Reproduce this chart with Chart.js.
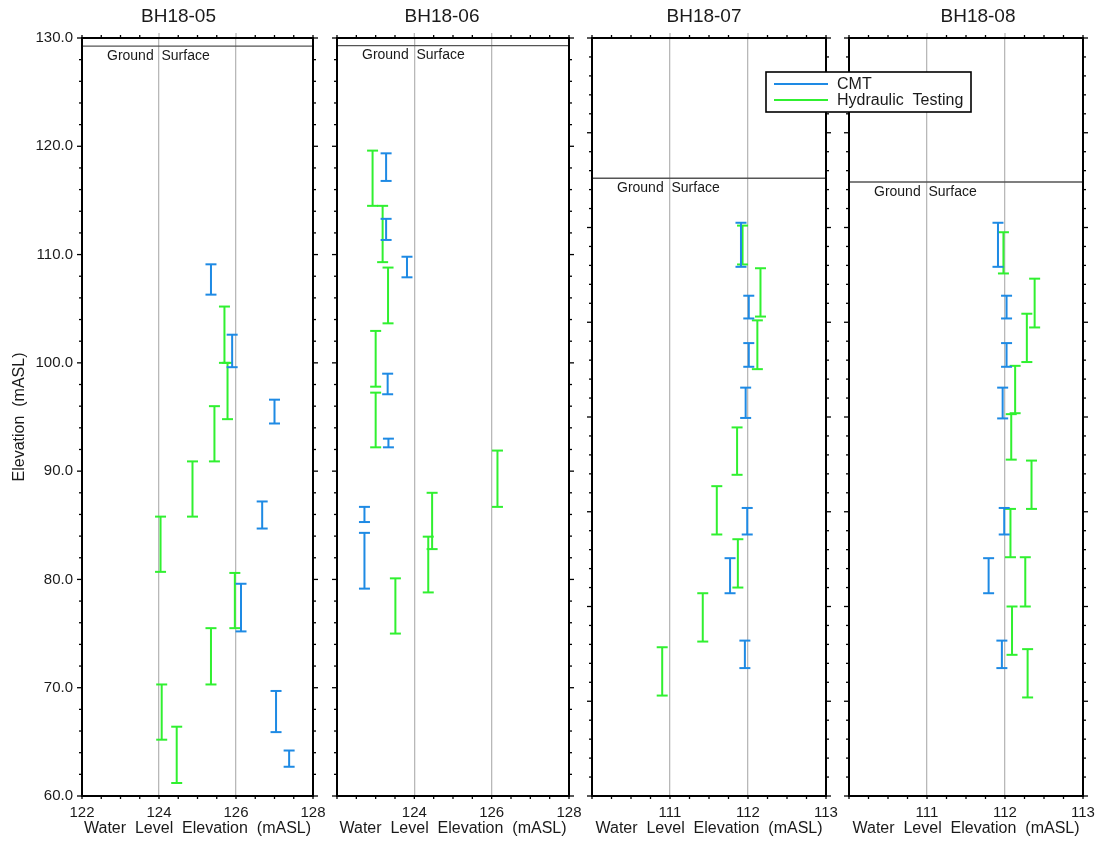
<!DOCTYPE html>
<html>
<head>
<meta charset="utf-8">
<title>Water level elevations by borehole</title>
<script src="https://cdn.jsdelivr.net/npm/chart.js@4.4.1/dist/chart.umd.min.js"></script>
<style>
  html, body { margin: 0; padding: 0; background: #ffffff; }
  #wrap { position: relative; width: 1100px; height: 842px; }
  #wrap canvas { position: absolute; left: 0; top: 0; }
</style>
</head>
<body>
<div id="wrap">
  <canvas id="panel0" width="1100" height="842"></canvas>
  <canvas id="panel1" width="1100" height="842"></canvas>
  <canvas id="panel2" width="1100" height="842"></canvas>
  <canvas id="panel3" width="1100" height="842"></canvas>
</div>
<script>
// ---- data -------------------------------------------------------------
const wells = ['BH18-05', 'BH18-06', 'BH18-07', 'BH18-08'];
const groundSurface = [129.25, 129.3, 115.2, 114.8];   // mASL

// tick values
const waterLevelTicksHigh = [122, 124, 126, 128];
const waterLevelTicksLow = [110, 111, 112, 113];
const elevationTicksUpper = [60, 70, 80, 90, 100, 110, 120, 130];
const elevationTicksFull = [50, 60, 70, 80, 90, 100, 110, 120, 130];

// intervals: [water level elevation, interval top, interval bottom] (mASL)
const bh1805Cmt = [
  [125.35, 109.1, 106.3], [125.90, 102.6, 99.6], [127.00, 96.6, 94.4],
  [126.68, 87.2, 84.7], [126.13, 79.6, 75.2], [127.04, 69.7, 65.9],
  [127.38, 64.2, 62.7]
];
const bh1805Hydraulic = [
  [125.70, 105.2, 100.0], [125.78, 100.0, 94.8], [125.44, 96.0, 90.9],
  [124.87, 90.9, 85.8], [124.04, 85.8, 80.7], [125.97, 80.6, 75.5],
  [125.35, 75.5, 70.3], [124.07, 70.3, 65.2], [124.46, 66.4, 61.2]
];
const bh1806Cmt = [
  [123.27, 119.35, 116.8], [123.27, 113.3, 111.35], [123.81, 109.8, 107.9],
  [123.31, 99.0, 97.1], [123.33, 93.0, 92.2], [122.71, 86.7, 85.3],
  [122.71, 84.3, 79.15]
];
const bh1806Hydraulic = [
  [122.92, 119.6, 114.5], [123.18, 114.5, 109.3], [123.32, 108.8, 103.65],
  [123.00, 102.95, 97.8], [123.00, 97.25, 92.2], [126.15, 91.9, 86.7],
  [124.46, 88.0, 82.8], [124.36, 83.95, 78.8], [123.51, 80.1, 75.0]
];
const bh1807Cmt = [
  [111.91, 110.5, 105.85], [112.01, 102.8, 100.4], [112.01, 97.8, 95.3],
  [111.97, 93.1, 89.9], [111.99, 80.4, 77.6], [111.77, 75.1, 71.4],
  [111.96, 66.4, 63.5]
];
const bh1807Hydraulic = [
  [111.93, 110.2, 106.1], [112.16, 105.7, 100.6], [112.12, 100.2, 95.05],
  [111.86, 88.9, 83.9], [111.60, 82.7, 77.6], [111.87, 77.1, 72.0],
  [111.42, 71.4, 66.3], [110.90, 65.7, 60.6]
];
const bh1808Cmt = [
  [111.91, 110.5, 105.85], [112.02, 102.8, 100.4], [112.02, 97.8, 95.3],
  [111.97, 93.1, 89.85], [111.99, 80.4, 77.6], [111.79, 75.1, 71.4],
  [111.96, 66.4, 63.5]
];
const bh1808Hydraulic = [
  [111.98, 109.5, 105.15], [112.38, 104.6, 99.45], [112.28, 100.9, 95.8],
  [112.13, 95.4, 90.4], [112.08, 90.3, 85.5], [112.34, 85.4, 80.3],
  [112.07, 80.3, 75.2], [112.26, 75.2, 70.0], [112.09, 70.0, 64.9],
  [112.29, 65.5, 60.4]
];

const seriesNames = ['CMT', 'Hydraulic  Testing'];

// ---- styling / layout --------------------------------------------------
const FONT = "'Liberation Sans', Arial, Helvetica, sans-serif";
const INK = '#1a1a1a';
const CMT_BLUE = '#1e8ae4';
const HYD_GREEN = '#30f030';
const GRID_GREY = '#b8b8b8';

Chart.defaults.font.family = FONT;
Chart.defaults.color = INK;

const panels = [
  { well: 0, cmt: bh1805Cmt, hyd: bh1805Hydraulic, xTicks: waterLevelTicksHigh, yTicks: elevationTicksUpper,
    xMinor: 0.5, left: 82, right: 313, titleShift: -19, showY: true },
  { well: 1, cmt: bh1806Cmt, hyd: bh1806Hydraulic, xTicks: waterLevelTicksHigh, yTicks: elevationTicksUpper,
    xMinor: 0.5, left: 337, right: 569, titleShift: -11, showY: false },
  { well: 2, cmt: bh1807Cmt, hyd: bh1807Hydraulic, xTicks: waterLevelTicksLow, yTicks: elevationTicksFull,
    xMinor: 0.25, left: 592, right: 826, titleShift: -5, showY: false },
  { well: 3, cmt: bh1808Cmt, hyd: bh1808Hydraulic, xTicks: waterLevelTicksLow, yTicks: elevationTicksFull,
    xMinor: 0.25, left: 849, right: 1083, titleShift: 12, showY: false, legend: true }
];

// Turn [level, top, bottom] rows into line segments separated by gaps.
function intervalPoints(rows) {
  const pts = [];
  rows.forEach(([x, top, bottom], k) => {
    if (k > 0) pts.push({ x: x, y: null });
    pts.push({ x: x, y: top }, { x: x, y: bottom });
  });
  return pts;
}

function intervalDataset(label, rows, color) {
  return {
    label: label,
    data: intervalPoints(rows),
    borderColor: color,
    backgroundColor: color,
    borderWidth: 2,
    pointStyle: 'line',
    pointRadius: 5.5,
    pointHoverRadius: 5.5,
    pointBorderColor: color,
    pointBorderWidth: 2,
    spanGaps: false,
    fill: false,
    tension: 0
  };
}

function line(ctx, x1, y1, x2, y2) {
  ctx.beginPath();
  ctx.moveTo(x1, y1);
  ctx.lineTo(x2, y2);
  ctx.stroke();
}

// Frame, tick marks, well title and ground-surface label.
const panelDecor = {
  id: 'panelDecor',
  afterDraw(chart, args, opts) {
    const ctx = chart.ctx;
    const a = chart.chartArea;
    const xs = chart.scales.x, ys = chart.scales.y;
    ctx.save();

    // x tick marks (top and bottom)
    const nx = Math.round((xs.max - xs.min) / opts.xMinor);
    for (let i = 0; i <= nx; i++) {
      const v = xs.min + i * opts.xMinor;
      const px = xs.getPixelForValue(v);
      const isMajor = opts.xTicks.some(t => Math.abs(t - v) < 1e-6);
      const interior = isMajor && v > xs.min && v < xs.max;
      ctx.lineWidth = 1.3;
      ctx.strokeStyle = interior ? GRID_GREY : '#000';
      line(ctx, px, a.top, px, a.top - (interior ? 5 : 3));
      ctx.strokeStyle = '#000';
      line(ctx, px, a.bottom, px, a.bottom + 3);
    }

    // y tick marks (left and right)
    const yMinor = 2;
    const ny = Math.round((ys.max - ys.min) / yMinor);
    ctx.strokeStyle = '#000';
    ctx.lineWidth = 1.3;
    for (let i = 0; i <= ny; i++) {
      const v = ys.min + i * yMinor;
      const py = ys.getPixelForValue(v);
      const isMajor = opts.yTicks.some(t => Math.abs(t - v) < 1e-6);
      const len = isMajor ? 5 : 3;
      line(ctx, a.left, py, a.left - len, py);
      line(ctx, a.right, py, a.right + len, py);
    }

    // frame
    ctx.lineWidth = 2;
    ctx.strokeStyle = '#000';
    ctx.strokeRect(a.left, a.top, a.right - a.left, a.bottom - a.top);

    // ground surface label
    const gsIndex = chart.data.datasets.findIndex(d => d.isGround);
    if (gsIndex >= 0) {
      const gs = chart.data.datasets[gsIndex];
      const py = ys.getPixelForValue(gs.data[0].y);
      ctx.fillStyle = INK;
      ctx.font = '14px ' + FONT;
      ctx.textAlign = 'left';
      ctx.textBaseline = 'alphabetic';
      ctx.fillText(gs.label, a.left + 25, py + 13.5);
    }

    // well title
    ctx.fillStyle = INK;
    ctx.font = '19px ' + FONT;
    ctx.textAlign = 'center';
    ctx.textBaseline = 'middle';
    ctx.fillText(opts.title, (a.left + a.right) / 2 + opts.titleShift, 17);

    // legend box
    if (opts.legend) {
      const L = opts.legend;
      ctx.fillStyle = '#fff';
      ctx.fillRect(L.left, L.top, L.width, L.height);
      ctx.lineWidth = 1.6;
      ctx.strokeStyle = '#000';
      ctx.strokeRect(L.left, L.top, L.width, L.height);
      const entries = chart.data.datasets.filter(d => !d.isGround);
      entries.forEach((d, k) => {
        const cy = L.top + 12 + k * 16;
        ctx.strokeStyle = d.borderColor;
        ctx.lineWidth = 2;
        line(ctx, L.left + 8, cy, L.left + 62, cy);
        ctx.fillStyle = INK;
        ctx.font = '16px ' + FONT;
        ctx.textAlign = 'left';
        ctx.textBaseline = 'middle';
        ctx.fillText(d.label, L.left + 71, cy + 0.5);
      });
    }
    ctx.restore();
  }
};

panels.forEach((p, idx) => {
  const xMin = p.xTicks[0], xMax = p.xTicks[p.xTicks.length - 1];
  const yMin = p.yTicks[0], yMax = p.yTicks[p.yTicks.length - 1];
  const datasets = [
    intervalDataset(seriesNames[0], p.cmt, CMT_BLUE),
    intervalDataset(seriesNames[1], p.hyd, HYD_GREEN),
    {
      label: 'Ground  Surface',
      isGround: true,
      data: [{ x: xMin, y: groundSurface[p.well] }, { x: xMax, y: groundSurface[p.well] }],
      borderColor: '#555555',
      borderWidth: 1.3,
      pointRadius: 0,
      pointHoverRadius: 0,
      fill: false
    }
  ];

  new Chart(document.getElementById('panel' + idx), {
    type: 'line',
    data: { datasets: datasets },
    plugins: [panelDecor],
    options: {
      responsive: false,
      animation: false,
      devicePixelRatio: 1,
      events: [],
      layout: {
        padding: { left: p.showY ? 0 : p.left, right: 1100 - p.right, top: 38, bottom: 0 }
      },
      plugins: {
        legend: { display: false },
        tooltip: { enabled: false },
        title: { display: false },
        panelDecor: {
          title: wells[p.well],
          titleShift: p.titleShift,
          xTicks: p.xTicks,
          yTicks: p.yTicks,
          xMinor: p.xMinor,
          legend: p.legend ? { left: 766, top: 72, width: 205, height: 40 } : null
        }
      },
      scales: {
        x: {
          type: 'linear',
          min: xMin,
          max: xMax,
          afterBuildTicks: s => { s.ticks = p.xTicks.map(v => ({ value: v })); },
          afterFit: s => { s.height = 46; s.paddingLeft = 0; s.paddingRight = 0; },
          grid: {
            drawTicks: false,
            lineWidth: 1.3,
            color: c => (c.tick && c.tick.value > xMin && c.tick.value < xMax) ? GRID_GREY : 'rgba(0,0,0,0)'
          },
          border: { display: false },
          ticks: {
            autoSkip: false,
            maxRotation: 0,
            padding: 8,
            color: INK,
            font: { size: 15, family: FONT },
            callback: v => (idx > 0 && v === xMin) ? '' : String(v)
          },
          title: {
            display: true,
            text: 'Water  Level  Elevation  (mASL)',
            color: INK,
            font: { size: 16, family: FONT },
            padding: { top: 0, bottom: 4 }
          }
        },
        y: {
          type: 'linear',
          display: p.showY,
          min: yMin,
          max: yMax,
          afterBuildTicks: s => { s.ticks = p.yTicks.map(v => ({ value: v })); },
          afterFit: s => {
            if (p.showY) s.width = p.left;
            s.paddingTop = 0; s.paddingBottom = 0;
          },
          grid: { display: false, drawTicks: false },
          border: { display: false },
          ticks: {
            padding: 9,
            color: INK,
            font: { size: 15, family: FONT },
            callback: v => Number(v).toFixed(1)
          },
          title: {
            display: p.showY,
            text: 'Elevation  (mASL)',
            color: INK,
            font: { size: 16, family: FONT },
            padding: { top: 10, bottom: 0 }
          }
        }
      }
    }
  });
});
</script>
</body>
</html>
